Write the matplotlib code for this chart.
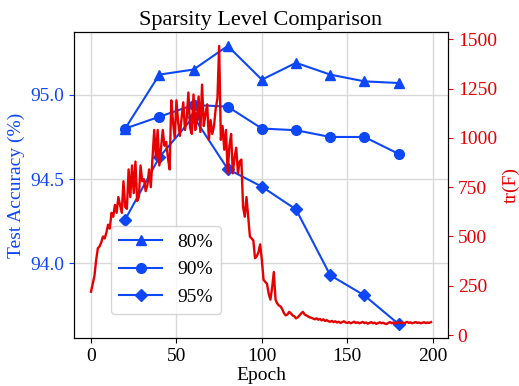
import numpy as np
import matplotlib
matplotlib.use('Agg')
from matplotlib import pyplot as plt

plt.rcParams['font.family'] = ['Liberation Serif', 'DejaVu Serif']
plt.rcParams['mathtext.fontset'] = 'stix'

# accuracy measured every 20 epochs
acc_epochs = [20, 40, 60, 80, 100, 120, 140, 160, 180]
acc_80 = [94.80, 95.12, 95.15, 95.29, 95.09, 95.19, 95.12, 95.08, 95.07]
acc_90 = [94.80, 94.87, 94.94, 94.93, 94.80, 94.79, 94.75, 94.75, 94.65]
acc_95 = [94.26, 94.63, 94.87, 94.56, 94.455, 94.32, 93.93, 93.81, 93.64]

# trace of the Fisher information, one value per epoch
trace_f = [
    220, 260, 300, 380, 440, 450, 470, 500, 490, 520,
    560, 540, 620, 600, 660, 620, 700, 660, 620, 780,
    650, 640, 840, 700, 860, 720, 880, 680, 700, 860,
    780, 790, 730, 760, 840, 750, 900, 1040, 900, 1040,
    860, 950, 1040, 960, 980, 900, 840, 1190, 1080, 1000,
    1190, 1080, 1010, 1100, 1180, 1040, 1100, 1230, 1050, 1020,
    1220, 1040, 1100, 1210, 1030, 1270, 1060, 1120, 1170, 990,
    1090, 1020, 1060, 1150, 1200, 1466, 990, 1060, 940, 1040,
    820, 960, 1020, 820, 900, 950, 820, 880, 890, 650,
    600, 700, 600, 500, 490, 480, 390, 400, 420, 460,
    380, 280, 270, 260, 210, 180, 240, 320, 180, 160,
    150, 145, 130, 110, 100, 105, 118, 110, 100, 95,
    85, 90, 100, 110, 118, 105, 100, 95, 90, 88,
    84, 80, 85, 78, 82, 75, 80, 72, 76, 70,
    68, 72, 66, 70, 64, 68, 62, 66, 70, 64,
    62, 66, 60, 64, 68, 62, 65, 60, 63, 67,
    61, 64, 58, 62, 66, 60, 63, 57, 61, 65,
    60, 63, 58, 56, 62, 66, 60, 64, 59, 62,
    66, 61, 64, 60, 63, 67, 62, 65, 60, 63,
    66, 62, 64, 60, 63, 65, 61, 64, 62, 66,
]
trace_epochs = np.arange(len(trace_f))

blue = '#0d47f7'
red = '#e60000'

fig = plt.figure(figsize=(5.19, 3.86), dpi=100)
ax1 = fig.add_axes([0.1426, 0.1244, 0.7206, 0.7926])

ax1.plot(acc_epochs, acc_80, color=blue, marker='^', markersize=7, lw=1.5, label='80%')
ax1.plot(acc_epochs, acc_90, color=blue, marker='o', markersize=7, lw=1.5, label='90%')
ax1.plot(acc_epochs, acc_95, color=blue, marker='D', markersize=6.5, lw=1.5, label='95%')
ax1.set_xlabel('Epoch', fontsize=14, labelpad=2)
ax1.set_ylabel('Test Accuracy (%)', fontsize=14, color=blue)
ax1.tick_params(axis='y', colors=blue, labelsize=14)
ax1.tick_params(axis='x', labelsize=14)
ax1.set_yticks([94.0, 94.5, 95.0])
ax1.grid(True, color='#d9d9d9', lw=1)
ax1.set_title('Sparsity Level Comparison', fontsize=16, pad=5)

ax2 = ax1.twinx()
ax2.plot(trace_epochs, trace_f, color=red, lw=1.7)
ax2.set_ylabel('tr(F)', fontsize=14, color=red)
ax2.tick_params(axis='y', colors=red, labelsize=14)
ax2.set_yticks([0, 250, 500, 750, 1000, 1250, 1500])

ax1.legend(loc='lower left', bbox_to_anchor=(0.1, 0.08), borderaxespad=0,
           fontsize=14, handlelength=2.2)

fig.savefig('out.png', dpi=100)
